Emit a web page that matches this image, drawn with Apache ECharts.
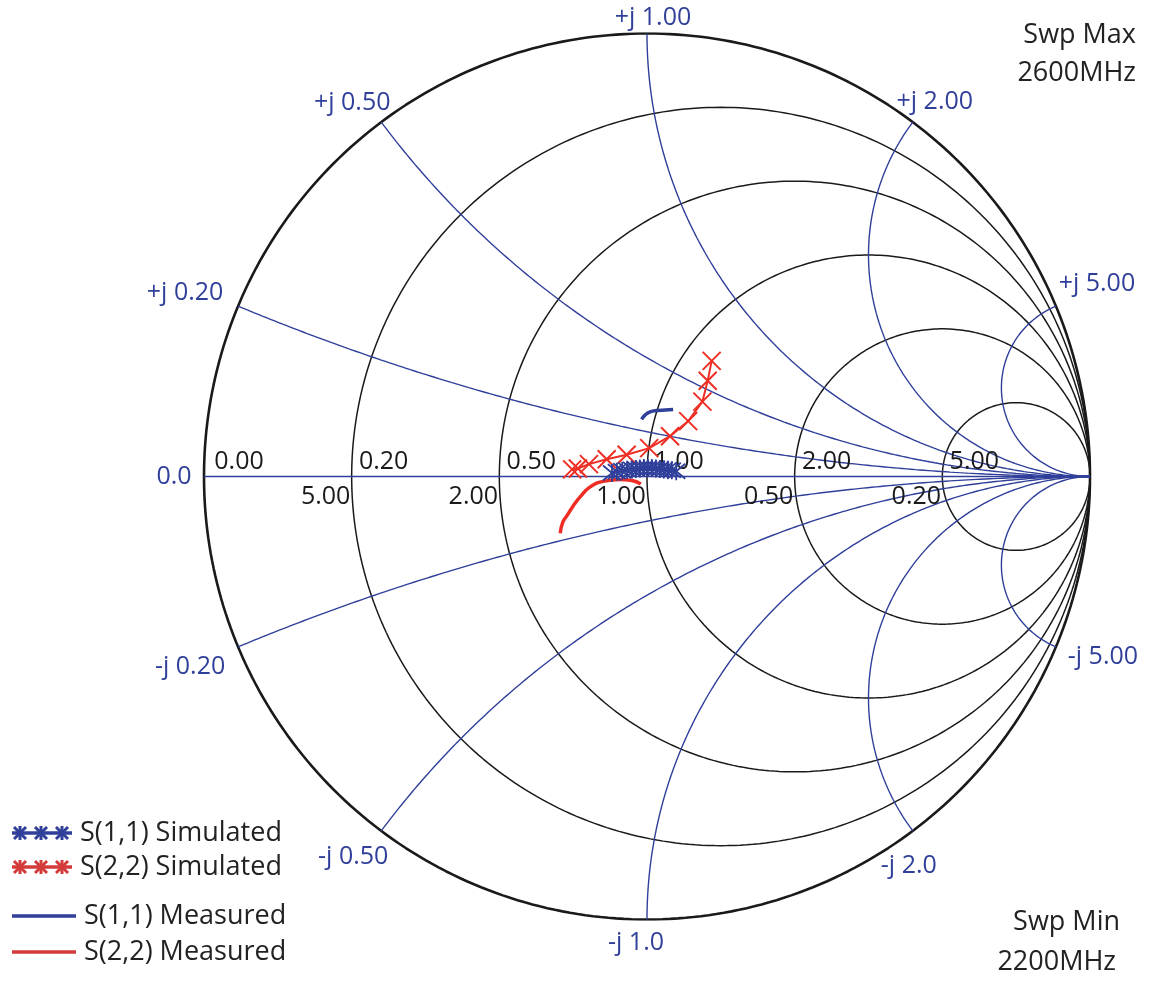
<!DOCTYPE html>
<html><head><meta charset="utf-8">
<script src="https://cdn.jsdelivr.net/npm/echarts@6/dist/echarts.min.js"></script>
<style>html,body{margin:0;padding:0;background:#fff}#c{width:1150px;height:983px}</style>
</head><body><div id="c"></div>
<script>
// ---- grid values & tick labels ----
const resistanceValues = [0, 0.2, 0.5, 1, 2, 5];
const resistanceLabels = ['0.00', '0.20', '0.50', '1.00', '2.00', '5.00'];
const conductanceValues = [5, 2, 1, 0.5, 0.2];
const conductanceLabels = ['5.00', '2.00', '1.00', '0.50', '0.20'];
const reactanceValues = [0.2, 0.5, 1, 2, 5];
const reactancePosLabels = ['+j 0.20', '+j 0.50', '+j 1.00', '+j 2.00', '+j 5.00'];
const reactanceNegLabels = ['-j 0.20', '-j 0.50', '-j 1.0', '-j 2.0', '-j 5.00'];
const originLabel = '0.0';

// ---- series (reflection coefficient, real / imag) ----
const s22Simulated = [
  [-0.169, 0.016], [-0.156, 0.018], [-0.131, 0.028], [-0.091, 0.039],
  [-0.046, 0.049], [0.005, 0.064], [0.052, 0.091], [0.093, 0.125],
  [0.125, 0.169], [0.137, 0.216], [0.146, 0.261]
];
const s22Measured = [
  [-0.196, -0.128], [-0.190, -0.103], [-0.181, -0.089], [-0.167, -0.067],
  [-0.151, -0.046], [-0.129, -0.024], [-0.099, -0.011], [-0.061, -0.007],
  [-0.034, -0.009], [-0.014, -0.017]
];
const s11Simulated = [
  [-0.079, 0.008], [-0.068, 0.011], [-0.056, 0.013], [-0.045, 0.015],
  [-0.034, 0.016], [-0.025, 0.017], [-0.016, 0.018], [-0.007, 0.019],
  [0.002, 0.019], [0.011, 0.019], [0.020, 0.018], [0.029, 0.017],
  [0.038, 0.016], [0.047, 0.015], [0.056, 0.014], [0.066, 0.012]
];
const s11Measured = [
  [-0.012, 0.129], [-0.005, 0.138], [0.007, 0.146], [0.023, 0.149],
  [0.041, 0.150], [0.059, 0.151]
];
const legendNames = ['S(1,1) Simulated', 'S(2,2) Simulated', 'S(1,1) Measured', 'S(2,2) Measured'];
const sweepTexts = ['Swp Max', '2600MHz', 'Swp Min', '2200MHz'];

// ---- styles ----
const BLUE = '#2f3f9a';
const RED = '#ee2e24';
const RED_LEG = '#d33b3b';
const BLACK = '#1a1a1a';
const FONT = 'Open Sans';
const posOffsets = [[-53, -13], [-29, -19], [6, -15.5], [22, -20], [41, -22]];
const negOffsets = [[-48, 20], [-28, 26], [-11, 23.5], [-4, 35], [47, 10]];

function gamma(r, x) {
  const d = (r + 1) * (r + 1) + x * x;
  return [((r - 1) * (r + 1) + x * x) / d, 2 * x / d];
}
function resistanceCircle(r) {
  const c = r / (1 + r), rad = 1 / (1 + r), pts = [];
  for (let i = 0; i <= 360; i++) {
    const t = i / 360 * 2 * Math.PI;
    pts.push([c + rad * Math.cos(t), rad * Math.sin(t)]);
  }
  return pts;
}
function reactanceArc(x) {
  const ax = Math.abs(x), sgn = Math.sign(x);
  const p = gamma(0, ax);
  const cx = 1, cy = 1 / ax, rad = 1 / ax;
  let a0 = Math.atan2(p[1] - cy, p[0] - cx);
  if (a0 < 0) a0 += 2 * Math.PI;
  const a1 = 1.5 * Math.PI, pts = [];
  for (let i = 0; i <= 200; i++) {
    const a = a0 + (a1 - a0) * i / 200;
    pts.push([cx + rad * Math.cos(a), sgn * (cy + rad * Math.sin(a))]);
  }
  return pts;
}
const gridLine = (data, color, width) => ({
  type: 'line', data, showSymbol: false, symbol: 'none', silent: true, animation: false,
  lineStyle: { color, width }, z: 1
});

const series = [];
resistanceValues.forEach(r => series.push(gridLine(resistanceCircle(r), BLACK, r === 0 ? 2.6 : 1.5)));
reactanceValues.forEach(x => {
  series.push(gridLine(reactanceArc(x), BLUE, 1.4));
  series.push(gridLine(reactanceArc(-x), BLUE, 1.4));
});
series.push(gridLine([[-1, 0], [1, 0]], BLUE, 1.4));

// labels
const labelData = [];
const lab = (pt, text, off, color) => labelData.push({
  value: pt, label: { formatter: text, offset: off, color }
});
resistanceValues.forEach((r, i) => lab(gamma(r, 0), resistanceLabels[i], [r === 0 ? 35 : 32, -14.5], BLACK));
conductanceValues.forEach((g, i) => lab([(1 - g) / (1 + g), 0], conductanceLabels[i], [-26, 20.5], BLACK));
reactanceValues.forEach((x, i) => {
  lab(gamma(0, x), reactancePosLabels[i], posOffsets[i], BLUE);
  lab(gamma(0, -x), reactanceNegLabels[i], negOffsets[i], BLUE);
});
lab([-1, 0], originLabel, [-30, 0], BLUE);
series.push({
  type: 'scatter', data: labelData, symbolSize: 1, silent: true, animation: false,
  itemStyle: { color: 'rgba(0,0,0,0)' }, z: 5,
  label: { show: true, position: 'inside', fontFamily: FONT, fontSize: 25, align: 'center', verticalAlign: 'middle',
    textBorderWidth: 0, textBorderColor: 'transparent', opacity: 1 }
});

const ASTER = 'path://M0 0L10 10M10 0L0 10M5 -1L5 11';
const XMARK = 'path://M0 0L10 10M10 0L0 10';
series.push({
  name: legendNames[1], type: 'line', data: s22Simulated, symbol: XMARK, symbolSize: 18, showSymbol: true,
  animation: false, lineStyle: { color: RED, width: 2 },
  itemStyle: { color: 'none', borderColor: RED, borderWidth: 2 }, z: 10
});
series.push({
  name: legendNames[3], type: 'line', data: s22Measured, symbol: 'none', smooth: true,
  animation: false, lineStyle: { color: RED, width: 3.5 }, z: 9
});
series.push({
  name: legendNames[0], type: 'line', data: s11Simulated, symbol: ASTER, symbolSize: 18, showSymbol: true,
  animation: false, lineStyle: { color: BLUE, width: 2 },
  itemStyle: { color: 'none', borderColor: BLUE, borderWidth: 1.8 }, z: 11
});
series.push({
  name: legendNames[2], type: 'line', data: s11Measured, symbol: 'none', smooth: true,
  animation: false, lineStyle: { color: BLUE, width: 3.5 }, z: 11
});

// legend drawn with graphics
const legendGraphics = [];
function legAster(x, y, color) {
  return { type: 'group', x, y, children: [
    { type: 'line', shape: { x1: -6, y1: -6, x2: 6, y2: 6 }, style: { stroke: color, lineWidth: 3 } },
    { type: 'line', shape: { x1: 6, y1: -6, x2: -6, y2: 6 }, style: { stroke: color, lineWidth: 3 } },
    { type: 'line', shape: { x1: 0, y1: -7, x2: 0, y2: 7 }, style: { stroke: color, lineWidth: 3 } }
  ] };
}
const legRows = [
  { y: 833, color: BLUE, aster: true, x2: 72, tx: 80 },
  { y: 867, color: RED_LEG, aster: true, x2: 72, tx: 80 },
  { y: 916, color: BLUE, aster: false, x2: 76, tx: 84 },
  { y: 952, color: RED_LEG, aster: false, x2: 76, tx: 84 }
];
legRows.forEach((row, i) => {
  legendGraphics.push({ type: 'line', shape: { x1: 12, y1: row.y, x2: row.x2, y2: row.y }, style: { stroke: row.color, lineWidth: 3.5 } });
  if (row.aster) [20, 41, 62].forEach(ax => legendGraphics.push(legAster(ax, row.y, row.color)));
  legendGraphics.push({ type: 'text', x: row.tx, y: row.y, style: {
    text: legendNames[i], font: '27px "' + FONT + '"', fill: '#222', verticalAlign: 'middle', align: 'left' } });
});
[[1136, 35], [1136, 73], [1120, 922], [1116, 962]].forEach((p, i) => legendGraphics.push({
  type: 'text', x: p[0], y: p[1], style: { text: sweepTexts[i], font: '27px "' + FONT + '"', fill: '#222', align: 'right', verticalAlign: 'middle' }
}));

const chart = echarts.init(document.getElementById('c'), null, { renderer: 'canvas' });
chart.setOption({
  backgroundColor: '#fff',
  animation: false,
  grid: { left: 204, top: 33.5, width: 886, height: 886, containLabel: false },
  xAxis: { type: 'value', min: -1, max: 1, show: false },
  yAxis: { type: 'value', min: -1, max: 1, show: false },
  series,
  graphic: legendGraphics
});
</script></body></html>
